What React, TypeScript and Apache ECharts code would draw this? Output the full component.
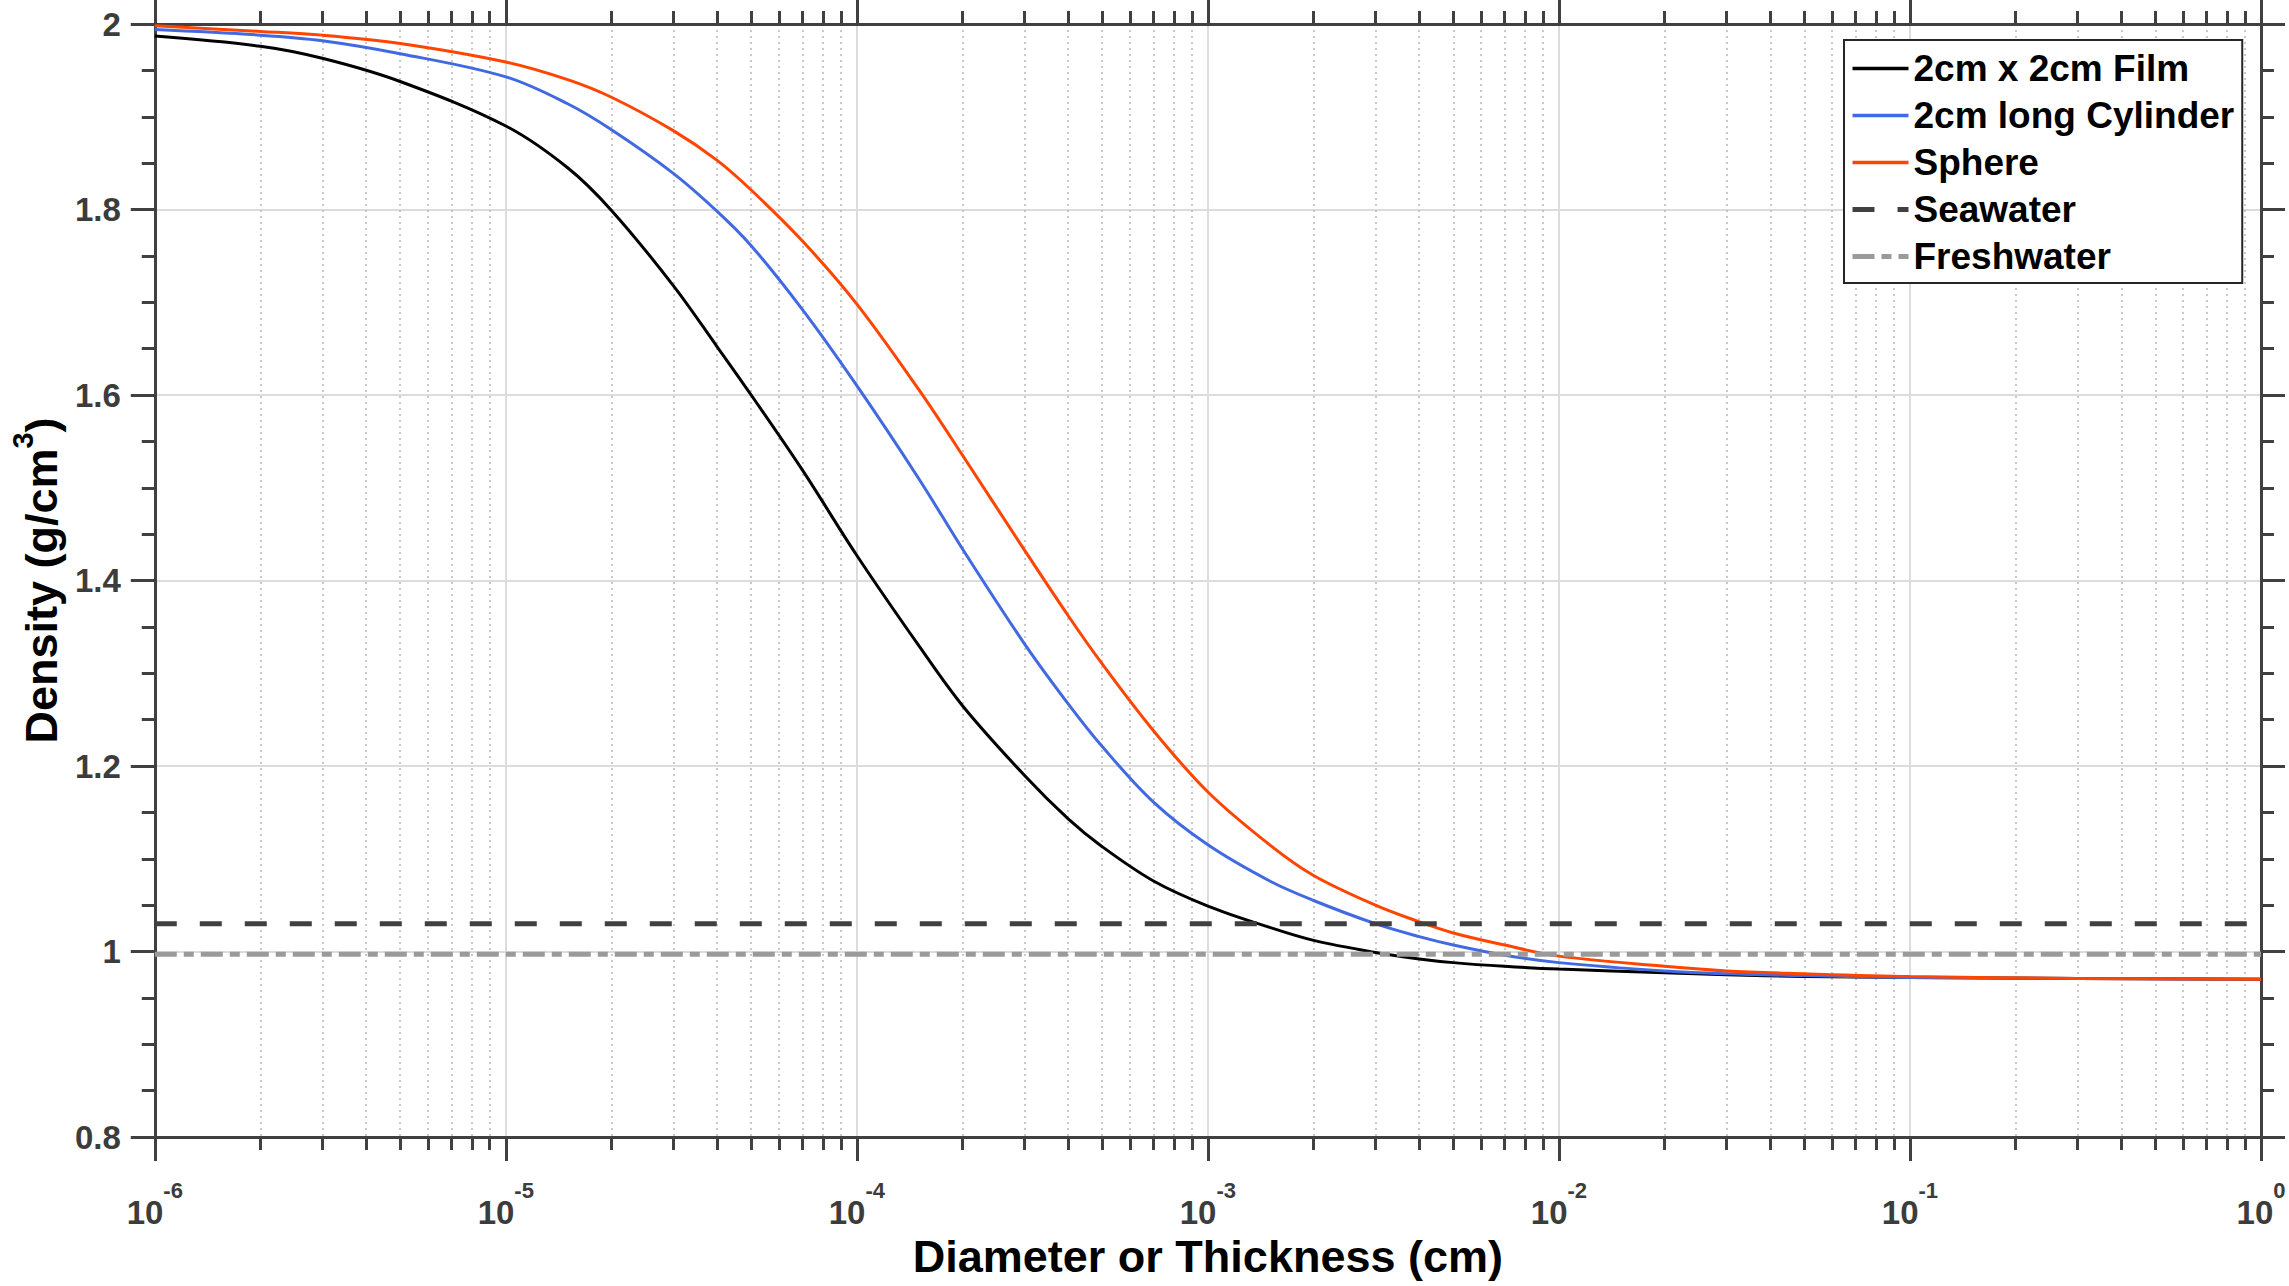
import React, { useEffect, useRef } from "react";
import * as echarts from "echarts";

// Diameter or thickness (cm)
const diameters = [
  1e-6, 2e-6, 3e-6, 5e-6,
  1e-5, 1.5e-5, 2e-5, 3e-5, 4e-5, 5e-5, 7e-5,
  1e-4, 1.5e-4, 2e-4, 3e-4, 4e-4, 5e-4, 7e-4,
  1e-3, 1.5e-3, 2e-3, 3e-3, 4e-3, 5e-3, 7e-3,
  1e-2, 2e-2, 3e-2, 5e-2,
  1e-1, 3e-1, 1,
];

// Density (g/cm^3)
const filmDensity = [
  1.987, 1.976, 1.963, 1.938,
  1.89, 1.845, 1.799, 1.718, 1.652, 1.6, 1.519,
  1.427, 1.33, 1.265, 1.19, 1.143, 1.113, 1.076,
  1.049, 1.026, 1.012, 0.999, 0.992, 0.988, 0.984,
  0.981, 0.977, 0.975, 0.973,
  0.972, 0.971, 0.97,
];
const cylinderDensity = [
  1.994, 1.988, 1.982, 1.968,
  1.943, 1.914, 1.886, 1.839, 1.798, 1.761, 1.692,
  1.61, 1.51, 1.434, 1.332, 1.267, 1.221, 1.161,
  1.115, 1.076, 1.055, 1.03, 1.016, 1.007, 0.996,
  0.988, 0.979, 0.976, 0.974,
  0.972, 0.971, 0.97,
];
const sphereDensity = [
  1.998, 1.992, 1.988, 1.979,
  1.959, 1.94, 1.921, 1.885, 1.853, 1.821, 1.766,
  1.698, 1.606, 1.535, 1.433, 1.362, 1.31, 1.238,
  1.172, 1.115, 1.082, 1.05, 1.032, 1.02, 1.007,
  0.995, 0.984, 0.979, 0.976,
  0.973, 0.971, 0.97,
];

const referenceX = [1e-6, 1];
const seawaterDensity = 1.03;
const freshwaterDensity = 0.997;

const seriesNames = [
  "2cm x 2cm Film",
  "2cm long Cylinder",
  "Sphere",
  "Seawater",
  "Freshwater",
];

const yTicks = { min: 0.8, max: 2, interval: 0.2 };
const xRange = { min: 1e-6, max: 1 };

const FONT = "'Liberation Sans', Arial, Helvetica, sans-serif";
const AXIS_COLOR = "#404040";
const LABEL_COLOR = "#3c3c3c";

export default function App() {
  const ref = useRef<HTMLDivElement>(null);

  useEffect(() => {
    if (!ref.current) return;
    const chart = echarts.init(ref.current, null, { renderer: "svg" });

    const axisLine = { show: true, onZero: false, lineStyle: { color: AXIS_COLOR, width: 3 } };
    const axisTick = { show: true, inside: false, length: 24, lineStyle: { color: AXIS_COLOR, width: 3 } };

    const xBase = {
      type: "log" as const,
      logBase: 10,
      min: xRange.min,
      max: xRange.max,
      splitNumber: 6,
      axisLine,
      axisTick,
      minorTick: { show: true, splitNumber: 9, length: 13, lineStyle: { color: AXIS_COLOR, width: 3 } },
    };
    const yBase = {
      type: "value" as const,
      min: yTicks.min,
      max: yTicks.max,
      interval: yTicks.interval,
      axisLine,
      axisTick,
      minorTick: { show: true, splitNumber: 4, length: 13, lineStyle: { color: AXIS_COLOR, width: 3 } },
    };

    const mk = (ys: number[]) => diameters.map((d, i) => [d, ys[i]]);
    const flat = (v: number) => referenceX.map((x) => [x, v]);

    const curve = (name: string, ys: number[], color: string) => ({
      name,
      type: "line",
      data: mk(ys),
      showSymbol: false,
      symbol: "none",
      smooth: 0.35,
      lineStyle: { color, width: 3 },
      itemStyle: { color },
    });

    const legendWidths = [3.5, 3.5, 3.5, 5, 5];

    const option = {
      animation: false,
      backgroundColor: "#ffffff",
      textStyle: { fontFamily: FONT },
      grid: { left: 148, right: 28, top: 24, bottom: 149, containLabel: false },
      legend: {
        show: true,
        orient: "vertical",
        left: 1844,
        top: 40,
        data: seriesNames.map((n, i) => ({ name: n, lineStyle: { width: legendWidths[i] } })),
        selectedMode: false,
        itemWidth: 56,
        itemHeight: 14,
        itemGap: 0,
        padding: [5, 8, 3, 6],
        borderColor: "#262626",
        borderWidth: 2,
        backgroundColor: "#ffffff",
        itemStyle: { opacity: 0 },
        textStyle: { fontSize: 37, fontWeight: "bold", color: "#000", fontFamily: FONT, lineHeight: 47 },
      },
      xAxis: [
        {
          ...xBase,
          position: "bottom",
          splitLine: { show: true, lineStyle: { color: "#dcdcdc", width: 2 } },
          minorSplitLine: { show: true, lineStyle: { color: "#b8b8b8", width: 1.5, type: [2, 4] } },
          axisLabel: {
            show: true,
            margin: 42,
            showMinLabel: true,
            showMaxLabel: true,
            formatter: (v: number) => `{b|10}{s|${Math.round(Math.log10(v))}}`,
            rich: {
              b: { fontSize: 33, fontWeight: "bold", color: LABEL_COLOR, fontFamily: FONT, lineHeight: 50, verticalAlign: "bottom" },
              s: { fontSize: 22, fontWeight: "bold", color: LABEL_COLOR, fontFamily: FONT, lineHeight: 22, verticalAlign: "top" },
            },
          },
          name: "Diameter or Thickness (cm)",
          nameLocation: "middle",
          nameGap: 96,
          nameTextStyle: { fontSize: 45, fontWeight: "bold", color: "#000", fontFamily: FONT },
        },
        {
          ...xBase,
          position: "top",
          axisLabel: { show: false },
          splitLine: { show: false },
          minorSplitLine: { show: false },
        },
      ],
      yAxis: [
        {
          ...yBase,
          position: "left",
          splitLine: { show: true, lineStyle: { color: "#dcdcdc", width: 2 } },
          minorSplitLine: { show: false },
          axisLabel: {
            show: true,
            margin: 34,
            fontSize: 33,
            fontWeight: "bold",
            color: LABEL_COLOR,
            fontFamily: FONT,
            formatter: (v: number) => String(Math.round(v * 10) / 10),
          },
          name: "{b|Density (g/cm}{s|3}{b|)}",
          nameLocation: "middle",
          nameGap: 80,
          nameRotate: 90,
          nameTextStyle: {
            fontSize: 45,
            fontWeight: "bold",
            color: "#000",
            fontFamily: FONT,
            rich: {
              b: { fontSize: 45, fontWeight: "bold", color: "#000", fontFamily: FONT, lineHeight: 56, verticalAlign: "bottom" },
              s: { fontSize: 29, fontWeight: "bold", color: "#000", fontFamily: FONT, lineHeight: 29, verticalAlign: "top" },
            },
          },
        },
        {
          ...yBase,
          position: "right",
          axisLabel: { show: false },
          splitLine: { show: false },
          minorSplitLine: { show: false },
        },
      ],
      series: [
        curve(seriesNames[0], filmDensity, "#000000"),
        curve(seriesNames[1], cylinderDensity, "#4169e1"),
        curve(seriesNames[2], sphereDensity, "#ff4500"),
        {
          name: seriesNames[3],
          type: "line",
          data: flat(seawaterDensity),
          showSymbol: false,
          symbol: "none",
          lineStyle: { color: "#404040", width: 5, type: [22, 23] },
          itemStyle: { color: "#404040" },
        },
        {
          name: seriesNames[4],
          type: "line",
          data: flat(freshwaterDensity),
          showSymbol: false,
          symbol: "none",
          lineStyle: { color: "#9a9a9a", width: 5, type: [22, 7, 10, 7] },
          itemStyle: { color: "#9a9a9a" },
        },
      ],
    };

    chart.setOption(option as any);
    return () => chart.dispose();
  }, []);

  return (
    <div
      ref={ref}
      style={{ position: "fixed", left: 0, top: 0, width: "2289px", height: "1286px", background: "#fff" }}
    />
  );
}
